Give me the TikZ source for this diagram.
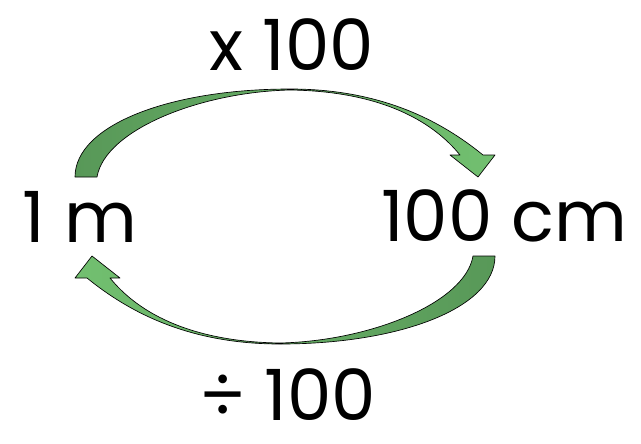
\documentclass[tikz,border=0pt]{standalone}
\usepackage{fontspec}
\setmainfont{Poppins}
\definecolor{gruendunkel}{RGB}{88,152,88}
\definecolor{gruenhell}{RGB}{114,192,112}
% outline of one curved block arrow (tail left, head right)
\newcommand{\bogenpfad}{(75,177) .. controls (75,125) and (170,89) .. (290,89)
      .. controls (380,89) and (440,120) .. (483,155)
      -- (495,155) -- (478,177) -- (450,155) -- (460,155)
      .. controls (425,112) and (365,91) .. (290,90)
      .. controls (200,92) and (105,130) .. (97,177) -- cycle}
\begin{document}
\begin{tikzpicture}[
      x=0.75pt, y=-0.75pt,
      zahl/.style={inner sep=0pt, anchor=base,
        font=\fontsize{53}{56}\selectfont},
      bogen/.style={draw=black, line width=0.5pt, line join=round}
    ]
    \useasboundingbox (0,0) rectangle (641,443);
    \path (292,70) node(mal) [zahl] {x 100}
    (80,242) node(m) [zahl] {1 m}
    (504,241) node(cm) [zahl] {100 cm}
    (288,420) node(durch) [zahl] {÷ 100};
    % m to cm
    \shade[bogen, left color=gruendunkel, right color=gruenhell] \bogenpfad;
    % cm back to m
    \begin{scope}[rotate around={180:(285,216.5)}]
      \shade[bogen, left color=gruenhell, right color=gruendunkel] \bogenpfad;
    \end{scope}
  \end{tikzpicture}
\end{document}
